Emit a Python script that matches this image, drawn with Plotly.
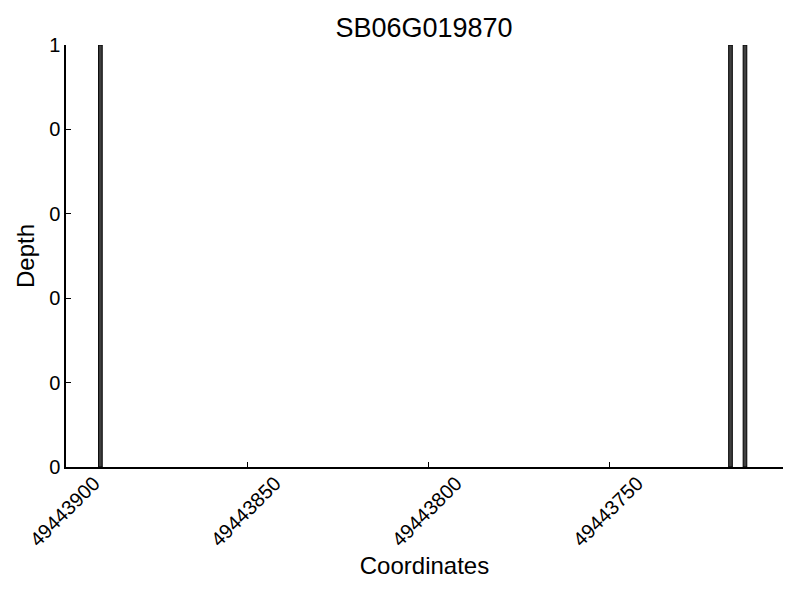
import plotly.graph_objects as go

# Data
coords = [49443891, 49443717, 49443713]
depth = [1, 1, 1]
x_tickvals = [49443900, 49443850, 49443800, 49443750]
x_ticktext = ["49443900", "49443850", "49443800", "49443750"]
y_tickvals = [0, 0.2, 0.4, 0.6, 0.8, 1.0]
y_ticktext = ["0", "0", "0", "0", "0", "1"]
title_text = "SB06G019870"

FONT = "Liberation Sans, Arial, sans-serif"

fig = go.Figure()
fig.add_trace(go.Bar(
    x=coords, y=depth, width=1, offset=-1,
    marker=dict(color="#404040", line=dict(color="black", width=1)),
))

fig.update_layout(
    width=800, height=600,
    margin=dict(l=66, r=17, t=45, b=133, autoexpand=False),
    plot_bgcolor="white", paper_bgcolor="white",
    showlegend=False,
    font=dict(family=FONT, color="black"),
    title=dict(text=title_text, x=0.53, xanchor="center", yref="container",
               y=1 - 28 / 600, yanchor="middle",
               font=dict(size=27, family=FONT, color="black")),
)
fig.update_xaxes(
    range=[49443900, 49443702],
    tickvals=x_tickvals, ticktext=x_ticktext,
    tickangle=-45, tickfont=dict(size=20),
    ticks="inside", ticklen=5, tickcolor="black", tickwidth=1,
    ticklabelshift=-28, ticklabelstandoff=-5,
    automargin=False,
    showline=True, linecolor="black", linewidth=1.5,
    showgrid=False, zeroline=False,
    title=dict(text="Coordinates", font=dict(size=24), standoff=8),
)
fig.update_yaxes(
    range=[0, 1],
    tickvals=y_tickvals, ticktext=y_ticktext,
    tickfont=dict(size=20),
    ticks="inside", ticklen=5, tickcolor="black", tickwidth=1,
    automargin=False,
    showline=True, linecolor="black", linewidth=1.5,
    showgrid=False, zeroline=False,
    title=dict(text="Depth", font=dict(size=24), standoff=8),
)

fig.write_html("out.html", config={"displayModeBar": False},
               post_script="document.body.style.margin='0';document.body.style.padding='0';")
